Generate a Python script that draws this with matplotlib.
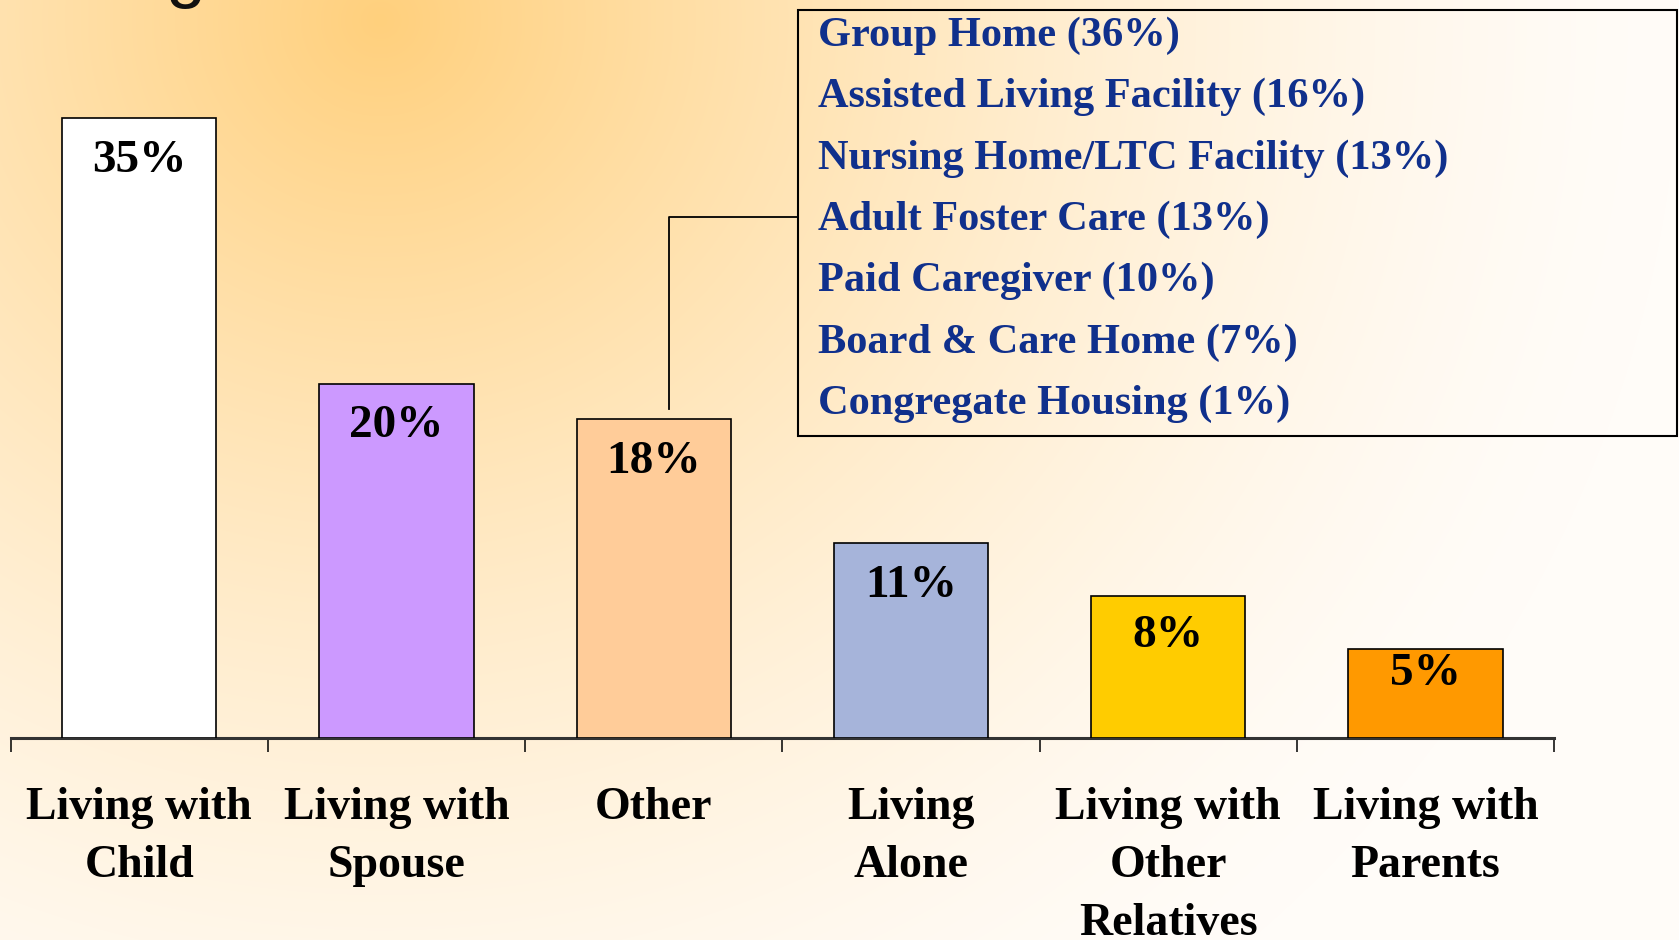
import numpy as np
import matplotlib.pyplot as plt
from matplotlib.patches import Rectangle

categories = ["Living with\nChild", "Living with\nSpouse", "Other", "Living\nAlone",
              "Living with\nOther\nRelatives", "Living with\nParents"]
shares = [35, 20, 18, 11, 8, 5]
bar_colors = ["#FFFFFF", "#CC99FF", "#FFCC99", "#A6B4DA", "#FFCC00", "#FF9900"]

other_breakdown = ["Group Home (36%)", "Assisted Living Facility (16%)",
                   "Nursing Home/LTC Facility (13%)", "Adult Foster Care (13%)",
                   "Paid Caregiver (10%)", "Board & Care Home (7%)",
                   "Congregate Housing (1%)"]

W, H = 1679, 940
fig = plt.figure(figsize=(W / 100, H / 100), dpi=100)

# background: soft orange glow fading to white
bg = fig.add_axes([0, 0, 1, 1], zorder=-10)
yy, xx = np.mgrid[0:H, 0:W]
d = np.hypot(xx - 380, (yy - 20) * 1.05)
f = np.clip(1 - d / 1300, 0, 1) ** 1.5
orange = np.array([255, 208, 125]) / 255
white = np.array([255, 252, 248]) / 255
img = white + (orange - white) * f[..., None]
bg.imshow(img, aspect="auto", extent=[0, 1, 0, 1], origin="upper")
bg.axis("off")

serif = ["Liberation Serif", "DejaVu Serif"]

ax = fig.add_axes([10.7 / W, 202 / H, (1554 - 10.7) / W, 1 - 202 / H])
ax.set_facecolor("none")
x = np.arange(len(categories))
ax.bar(x, shares, width=0.6, color=bar_colors, edgecolor="black", linewidth=1.2, zorder=3)
ax.set_xlim(-0.5, len(categories) - 0.5)
ax.set_ylim(0, 41.67)

for xi, v in zip(x, shares):
    off = min(2.4, 0.28 * v)
    ax.text(xi, v - off, f"{v}%", ha="center", va="center", fontsize=34,
            fontweight="bold", family=serif, zorder=4)

for s in ["top", "right", "left"]:
    ax.spines[s].set_visible(False)
ax.spines["bottom"].set_linewidth(2.2)
ax.spines["bottom"].set_color("#333333")
ax.set_yticks([])
ax.set_xticks(np.arange(len(categories) + 1) - 0.5, [""] * (len(categories) + 1))
ax.tick_params(axis="x", which="major", length=10, width=1.1, direction="out")
ax.set_xticks(x, categories, minor=True)
ax.tick_params(axis="x", which="minor", length=0, pad=35)
for lab in ax.get_xticklabels(minor=True):
    lab.set_fontsize(33)
    lab.set_fontweight("bold")
    lab.set_family(serif)
    lab.set_linespacing(1.5)
    lab.set_verticalalignment("top")

# breakdown box for "Other"
box_l, box_t, box_r, box_b = 798, 9.6, 1677, 436
fig.patches.append(Rectangle((box_l / W, 1 - box_b / H), (box_r - box_l) / W,
                             (box_b - box_t) / H, transform=fig.transFigure,
                             fill=False, edgecolor="black", linewidth=1.5))
for i, line in enumerate(other_breakdown):
    fig.text(818 / W, 1 - (35.5 + i * 61.4) / H, line, ha="left", va="center",
             fontsize=30.5, fontweight="bold", family=serif, color="#10308C")

# connector from "Other" bar to the box
fig.canvas.draw()
box_x = ax.transData.inverted().transform(fig.transFigure.transform((box_l / W, 0)))[0]
cx, cy_top = 2.06, 29.4
ax.plot([cx, cx, box_x], [shares[2] + 0.6, cy_top, cy_top], color="black",
        linewidth=1.3, clip_on=False, zorder=2)

# cut-off title fragment at the top edge
fig.text(166 / W, 1 + 6 / H, "g", ha="left", va="baseline", fontsize=52,
         family="Liberation Sans", color="#111111")

fig.savefig("out.png", dpi=100)
